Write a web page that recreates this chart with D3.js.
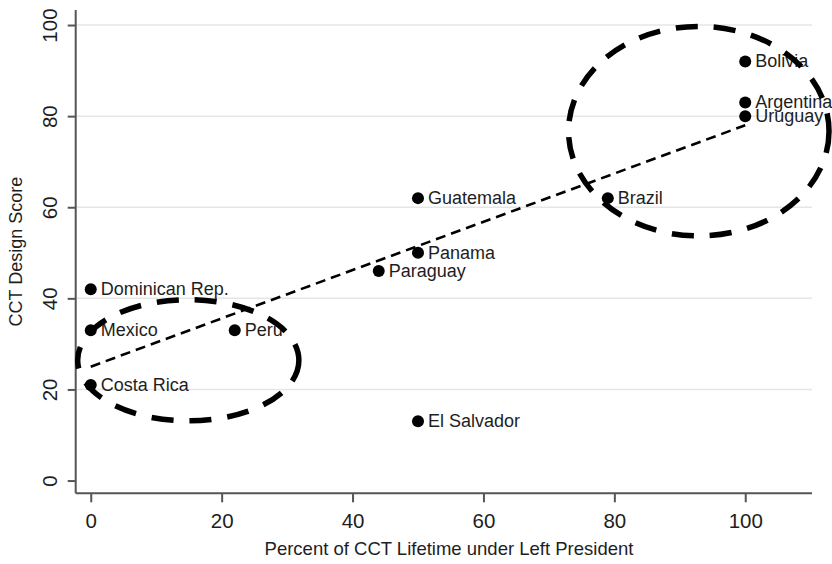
<!DOCTYPE html>
<html>
<head>
<meta charset="utf-8">
<script src="https://cdn.jsdelivr.net/npm/d3@7/dist/d3.min.js"></script>
<style>
  html, body { margin: 0; padding: 0; background: #fff; }
  svg { display: block; }
  text { font-family: "Liberation Sans", Arial, Helvetica, sans-serif; fill: #1e1e1e; }
</style>
</head>
<body>
<svg id="chart" width="832" height="564"></svg>
<script>
// ---- data ----
const countries = ["Bolivia", "Argentina", "Uruguay", "Brazil", "Guatemala", "Panama",
                   "Paraguay", "Dominican Rep.", "Mexico", "Peru", "Costa Rica", "El Salvador"];
const leftPercent = [100, 100, 100, 79, 50, 50, 44, 0, 0, 22, 0, 50];
const designScore = [92, 83, 80, 62, 62, 50, 46, 42, 33, 33, 21, 13];

// fitted line endpoints
const fitX = [0, 100];
const fitY = [25, 78];

// annotation ellipses in data units: centre x, centre y, radius x, radius y
const ellipseCX = [14.9, 92.9];
const ellipseCY = [26.4, 76.7];
const ellipseRX = [16.9, 19.9];
const ellipseRY = [13.3, 23.0];

const xTicks = [0, 20, 40, 60, 80, 100];
const yTicks = [0, 20, 40, 60, 80, 100];
const yGrid = [20, 40, 60, 80, 100];

const xTitle = "Percent of CCT Lifetime under Left President";
const yTitle = "CCT Design Score";

// ---- layout ----
const svg = d3.select("#chart");
const pLeft = 75.7, pRight = 812, pTop = 10, pBottom = 493.3;

const x = d3.scaleLinear().domain([-2.3, 110.2]).range([pLeft, pRight]);
const y = d3.scaleLinear().domain([-2.8, 103.3]).range([pBottom, pTop]);

const axisColor = "#555";

// gridlines
svg.append("g").selectAll("line").data(yGrid).join("line")
  .attr("x1", pLeft).attr("x2", pRight)
  .attr("y1", d => y(d)).attr("y2", d => y(d))
  .attr("stroke", "#e6e6e6").attr("stroke-width", 1.5);

// axes
const xAxis = svg.append("g").attr("transform", `translate(0,${pBottom})`)
  .call(d3.axisBottom(x).tickValues(xTicks).tickSize(9).tickPadding(6).tickFormat(d3.format("d")));
const yAxis = svg.append("g").attr("transform", `translate(${pLeft},0)`)
  .call(d3.axisLeft(y).tickValues(yTicks).tickSize(8).tickPadding(6).tickFormat(d3.format("d")));

[xAxis, yAxis].forEach(g => {
  g.select(".domain").attr("stroke", axisColor).attr("stroke-width", 2);
  g.selectAll(".tick line").attr("stroke", axisColor).attr("stroke-width", 2);
  g.selectAll(".tick text").attr("fill", "#1e1e1e")
    .style("font-family", '"Liberation Sans", Arial, sans-serif').style("font-size", "20.5px");
});
xAxis.select(".domain").attr("d", `M${pLeft},0H${pRight}`);
yAxis.select(".domain").attr("d", `M0,${pBottom}V${pTop}`);

xAxis.selectAll(".tick text").attr("y", 0).attr("dy", 0)
  .attr("transform", "translate(0,35)");
yAxis.selectAll(".tick text")
  .attr("x", 0).attr("dy", 0)
  .attr("text-anchor", "middle")
  .attr("transform", "translate(-19,0) rotate(-90)");

// axis titles
svg.append("text").attr("x", 449).attr("y", 555).attr("text-anchor", "middle")
  .style("font-size", "18.5px").text(xTitle);
svg.append("text").attr("transform", `translate(22,${(pTop + pBottom) / 2}) rotate(-90)`)
  .attr("text-anchor", "middle").style("font-size", "18px").text(yTitle);

// fit line
svg.append("line")
  .attr("x1", x(fitX[0])).attr("y1", y(fitY[0]))
  .attr("x2", x(fitX[1])).attr("y2", y(fitY[1]))
  .attr("stroke", "#000").attr("stroke-width", 2.6).attr("stroke-dasharray", "10 6");

// points
const pts = countries.map((c, i) => ({ name: c, px: leftPercent[i], py: designScore[i] }));
svg.append("g").selectAll("circle").data(pts).join("circle")
  .attr("cx", d => x(d.px)).attr("cy", d => y(d.py)).attr("r", 6).attr("fill", "#000");

svg.append("g").selectAll("text").data(pts).join("text")
  .attr("x", d => x(d.px) + 10).attr("y", d => y(d.py) + 6)
  .style("font-size", "18px").text(d => d.name);

// ellipses
const ell = ellipseCX.map((cx, i) => ({ cx, cy: ellipseCY[i], rx: ellipseRX[i], ry: ellipseRY[i] }));
svg.append("g").selectAll("ellipse").data(ell).join("ellipse")
  .attr("cx", d => x(d.cx)).attr("cy", d => y(d.cy))
  .attr("rx", d => x(d.cx + d.rx) - x(d.cx))
  .attr("ry", d => y(d.cy - d.ry) - y(d.cy))
  .attr("fill", "none").attr("stroke", "#000").attr("stroke-width", 5.5)
  .attr("stroke-dasharray", "22 16");
</script>
</body>
</html>
